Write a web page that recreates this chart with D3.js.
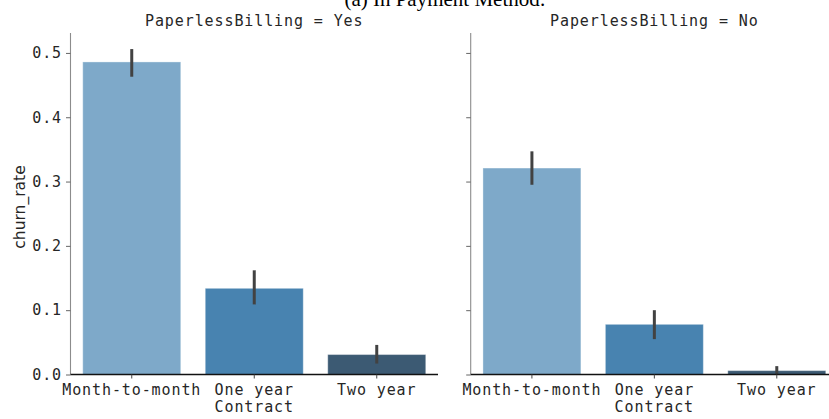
<!DOCTYPE html>
<html>
<head>
<meta charset="utf-8">
<script src="https://cdn.jsdelivr.net/npm/d3@7"></script>
<style>
  html, body { margin: 0; padding: 0; background: #fff; }
  svg { display: block; }
</style>
</head>
<body>
<svg id="chart" width="829" height="419"></svg>
<script>
// ---- data ----
const categories = ["Month-to-month", "One year", "Two year"];
const panels = ["PaperlessBilling = Yes", "PaperlessBilling = No"];
const churnYes = [0.486, 0.134, 0.031];
const lowYes   = [0.463, 0.109, 0.017];
const highYes  = [0.506, 0.162, 0.046];
const churnNo  = [0.321, 0.078, 0.006];
const lowNo    = [0.295, 0.055, 0.001];
const highNo   = [0.347, 0.100, 0.013];
const yTicks = [0.0, 0.1, 0.2, 0.3, 0.4, 0.5];
const colors = ["#7ea9c9", "#4883b0", "#3c5a73"];
const xLabel = "Contract";
const yLabel = "churn_rate";
const figTitle = "(a) In Payment Method:";

const series = [
  {title: panels[0], v: churnYes, lo: lowYes, hi: highYes},
  {title: panels[1], v: churnNo, lo: lowNo, hi: highNo}
];

const svg = d3.select("#chart");
const monoFont = "'DejaVu Sans Mono', 'Liberation Mono', monospace";
const textColor = "#262626";

const y = d3.scaleLinear().domain([0, 0.531]).range([374.5, 33]);
const panelRanges = [[70.5, 438], [470.7, 838]];

// figure title (cropped at top, as in the source image)
svg.append("text")
  .attr("x", 445).attr("y", 6)
  .attr("text-anchor", "middle")
  .attr("font-family", "'Liberation Serif', 'Times New Roman', serif")
  .attr("font-size", 21)
  .attr("fill", "#000")
  .text(figTitle);

series.forEach((s, pi) => {
  const [x0, x1] = panelRanges[pi];
  const x = d3.scaleBand().domain(categories).range([x0, x1]).paddingInner(0.2).paddingOuter(0.1);
  const g = svg.append("g");

  // bars
  g.selectAll("rect.bar").data(categories).join("rect")
    .attr("class", "bar")
    .attr("x", d => x(d))
    .attr("width", x.bandwidth())
    .attr("y", (d, i) => y(s.v[i]))
    .attr("height", (d, i) => y(0) - y(s.v[i]))
    .attr("fill", (d, i) => colors[i])
    .attr("stroke", "#ffffff").attr("stroke-opacity", 0.35).attr("stroke-width", 1);

  // error bars
  g.selectAll("line.err").data(categories).join("line")
    .attr("class", "err")
    .attr("x1", d => x(d) + x.bandwidth() / 2)
    .attr("x2", d => x(d) + x.bandwidth() / 2)
    .attr("y1", (d, i) => y(s.lo[i]))
    .attr("y2", (d, i) => y(s.hi[i]))
    .attr("stroke", "#424242").attr("stroke-width", 3);

  // y axis
  const yAxis = d3.axisLeft(y).tickValues(yTicks).tickSize(4.5).tickPadding(4)
    .tickFormat(pi === 0 ? d3.format(".1f") : () => "");
  const ya = g.append("g").attr("transform", `translate(${x0},0)`).call(yAxis);
  ya.select(".domain").attr("stroke", "#8c8c8c").attr("stroke-width", 1.1).attr("d", `M0,33V${y(0)}`);
  ya.selectAll(".tick line").attr("stroke", "#666");
  ya.selectAll(".tick text")
    .attr("font-family", monoFont).attr("font-size", 15).attr("letter-spacing", 0.9)
    .attr("fill", textColor);

  // x axis
  const xAxis = d3.axisBottom(x).tickSize(4).tickPadding(4);
  const xa = g.append("g").attr("transform", `translate(0,${y(0)})`).call(xAxis);
  xa.select(".domain").attr("stroke", "#111").attr("stroke-width", 1.3).attr("d", `M${x0},0H${x1}`);
  xa.selectAll(".tick line").attr("stroke", "#444");
  xa.selectAll(".tick text")
    .attr("font-family", monoFont).attr("font-size", 15).attr("letter-spacing", 0.9)
    .attr("fill", textColor).attr("dy", "0.85em");

  // x label
  g.append("text")
    .attr("x", (x0 + x1) / 2).attr("y", 412)
    .attr("text-anchor", "middle")
    .attr("font-family", monoFont).attr("font-size", 15).attr("letter-spacing", 0.9)
    .attr("fill", textColor)
    .text(xLabel);

  // panel title
  g.append("text")
    .attr("x", (x0 + x1) / 2).attr("y", 26)
    .attr("text-anchor", "middle")
    .attr("font-family", monoFont).attr("font-size", 15).attr("letter-spacing", 0.9)
    .attr("fill", textColor)
    .text(s.title);
});

// y label
svg.append("text")
  .attr("transform", `translate(25,207) rotate(-90)`)
  .attr("text-anchor", "middle")
  .attr("font-family", "'DejaVu Sans', sans-serif")
  .attr("font-size", 15.5)
  .attr("fill", textColor)
  .text(yLabel);
</script>
</body>
</html>
